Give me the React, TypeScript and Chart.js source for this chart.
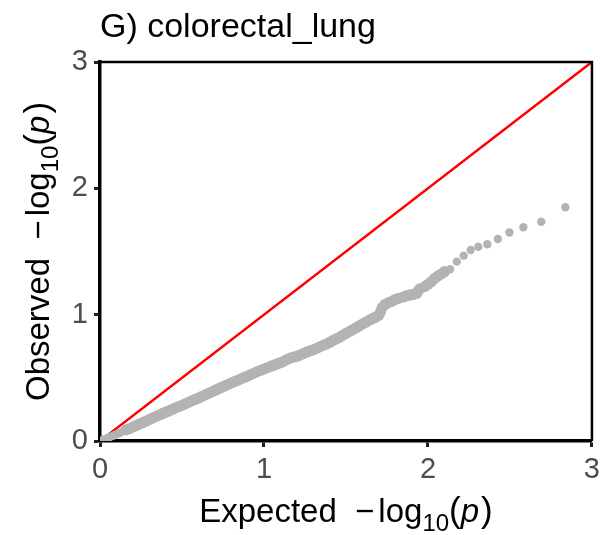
import React, { useEffect, useRef } from "react";
import { Chart, registerables } from "chart.js";

Chart.register(...registerables);

const FONT = "'Liberation Sans', Arial, Helvetica, sans-serif";

const titleText = "G) colorectal_lung";
const xTickValues = [0, 1, 2, 3];
const yTickValues = [0, 1, 2, 3];

// Expected -log10(p)
const expectedValues = [
  0.00, 0.02, 0.04, 0.06, 0.08, 0.10, 0.12, 0.14, 0.16, 0.18,
  0.20, 0.22, 0.24, 0.26, 0.28, 0.30, 0.32, 0.34, 0.36, 0.38,
  0.40, 0.42, 0.44, 0.46, 0.48, 0.50, 0.52, 0.54, 0.56, 0.58,
  0.60, 0.62, 0.64, 0.66, 0.68, 0.70, 0.72, 0.74, 0.76, 0.78,
  0.80, 0.82, 0.84, 0.86, 0.88, 0.90, 0.92, 0.94, 0.96, 0.98,
  1.00, 1.02, 1.04, 1.06, 1.08, 1.10, 1.12, 1.14, 1.16, 1.18,
  1.20, 1.22, 1.24, 1.26, 1.28, 1.30, 1.32, 1.34, 1.36, 1.38,
  1.40, 1.42, 1.44, 1.46, 1.48, 1.50, 1.52, 1.54, 1.56, 1.58,
  1.60, 1.62, 1.64, 1.66, 1.68, 1.70, 1.71, 1.72, 1.74, 1.76,
  1.78, 1.80, 1.82, 1.85, 1.87, 1.89, 1.91, 1.93, 1.94, 1.95,
  1.98, 2.00, 2.02, 2.04, 2.06, 2.08, 2.10, 2.135, 2.176, 2.218,
  2.261, 2.307, 2.362, 2.426, 2.497, 2.582, 2.691, 2.838,
];

// Observed -log10(p)
const observedValues = [
  0.000, 0.010, 0.020, 0.032, 0.042, 0.053, 0.064, 0.077, 0.088, 0.099,
  0.110, 0.122, 0.134, 0.145, 0.157, 0.170, 0.181, 0.193, 0.205, 0.216,
  0.228, 0.238, 0.250, 0.262, 0.272, 0.283, 0.295, 0.306, 0.318, 0.329,
  0.340, 0.352, 0.364, 0.376, 0.388, 0.400, 0.412, 0.424, 0.436, 0.447,
  0.459, 0.470, 0.481, 0.492, 0.503, 0.514, 0.526, 0.538, 0.549, 0.560,
  0.570, 0.580, 0.590, 0.600, 0.610, 0.620, 0.630, 0.645, 0.656, 0.664,
  0.670, 0.680, 0.692, 0.703, 0.713, 0.722, 0.733, 0.745, 0.757, 0.768,
  0.780, 0.795, 0.808, 0.820, 0.836, 0.852, 0.866, 0.880, 0.895, 0.910,
  0.925, 0.940, 0.955, 0.968, 0.980, 0.995, 1.020, 1.055, 1.082, 1.095,
  1.105, 1.120, 1.130, 1.140, 1.150, 1.156, 1.160, 1.168, 1.185, 1.205,
  1.222, 1.240, 1.261, 1.285, 1.306, 1.322, 1.340, 1.359, 1.420, 1.467,
  1.512, 1.538, 1.557, 1.599, 1.650, 1.692, 1.736, 1.850,
];

// Reference line y = x
const refLineX = [0, 3];
const refLineY = [0, 3];

type Part = { t: string; italic?: boolean; sub?: boolean; paren?: boolean; gap?: number };

const xTitleParts: Part[] = [
  { t: "Expected " },
  { t: " \u2212", gap: 4 },
  { t: "log" },
  { t: "10", sub: true },
  { t: "(", paren: true },
  { t: "p", italic: true, gap: 2 },
  { t: ")", paren: true },
];
const yTitleParts: Part[] = [
  { t: "Observed " },
  { t: " \u2212", gap: 4 },
  { t: "log" },
  { t: "10", sub: true },
  { t: "(", paren: true },
  { t: "p", italic: true, gap: 2 },
  { t: ")", paren: true },
];

const BASE = 33;
function partFont(p: Part) {
  const size = p.sub ? 24 : p.paren ? 35 : BASE;
  return `${p.italic ? "italic " : ""}${size}px ${FONT}`;
}
function measureParts(ctx: CanvasRenderingContext2D, parts: Part[]) {
  let w = 0;
  for (const p of parts) {
    ctx.font = partFont(p);
    w += ctx.measureText(p.t).width + (p.gap || 0);
  }
  return w;
}
function drawParts(ctx: CanvasRenderingContext2D, parts: Part[], x0: number, y0: number) {
  let x = x0;
  ctx.textBaseline = "alphabetic";
  ctx.textAlign = "left";
  for (const p of parts) {
    ctx.font = partFont(p);
    ctx.fillText(p.t, x, y0 + (p.sub ? 9 : 0));
    x += ctx.measureText(p.t).width + (p.gap || 0);
  }
}

const decorPlugin = {
  id: "decor",
  afterDraw(chart: any) {
    const ctx: CanvasRenderingContext2D = chart.ctx;
    const a = chart.chartArea;
    ctx.save();
    // panel border (top and right)
    ctx.strokeStyle = "#000";
    ctx.lineWidth = 2.5;
    ctx.beginPath();
    ctx.moveTo(a.left, a.top);
    ctx.lineTo(a.right, a.top);
    ctx.lineTo(a.right, a.bottom);
    ctx.stroke();
    // title
    ctx.fillStyle = "#000";
    ctx.font = `34px ${FONT}`;
    ctx.textBaseline = "alphabetic";
    ctx.textAlign = "left";
    ctx.fillText(titleText, 100, 37);
    // x axis title
    const cx = (a.left + a.right) / 2;
    const wx = measureParts(ctx, xTitleParts);
    drawParts(ctx, xTitleParts, cx - wx / 2, 522);
    // y axis title
    const cy = (a.top + a.bottom) / 2;
    const wy = measureParts(ctx, yTitleParts);
    ctx.translate(49, cy);
    ctx.rotate(-Math.PI / 2);
    drawParts(ctx, yTitleParts, -wy / 2, 0);
    ctx.restore();
  },
};

export default function App() {
  const canvasRef = useRef<HTMLCanvasElement | null>(null);

  useEffect(() => {
    const canvas = canvasRef.current;
    if (!canvas) return;
    const points = expectedValues.map((x, i) => ({ x, y: observedValues[i] }));
    const ref = refLineX.map((x, i) => ({ x, y: refLineY[i] }));
    const tickCfg = (vals: number[]) => ({
      font: { size: 29, family: FONT },
      color: "#4d4d4d",
      padding: 6,
      stepSize: 1,
      autoSkip: false,
      callback: (v: any) => (vals.includes(Number(v)) ? String(v) : ""),
    });
    const gridCfg = {
      display: true,
      drawOnChartArea: false,
      drawTicks: true,
      tickLength: 6,
      tickWidth: 3,
      tickColor: "#222",
    };
    const chart = new Chart(canvas, {
      type: "scatter",
      data: {
        datasets: [
          {
            label: "QQ",
            data: points,
            pointRadius: (c: any) => {
              const r = c.raw;
              if (!r) return 4.2;
              if (r.x < 0.15) return 4.2;
              return r.x < 2.12 ? 5.6 : 4.2;
            },
            pointHoverRadius: 4.2,
            backgroundColor: "#b3b3b3",
            borderWidth: 0,
            showLine: false,
            order: 0,
          },
          {
            label: "y = x",
            data: ref,
            showLine: true,
            borderColor: "#ff0000",
            borderWidth: 2.5,
            pointRadius: 0,
            order: 1,
          },
        ],
      },
      options: {
        animation: false,
        responsive: false,
        layout: { padding: { top: 62, right: 11, left: 0, bottom: 0 } },
        plugins: {
          legend: { display: false },
          tooltip: { enabled: false },
          title: { display: false },
        },
        scales: {
          x: {
            type: "linear",
            min: 0,
            max: 3,
            ticks: tickCfg(xTickValues),
            grid: gridCfg,
            border: { display: true, color: "#000", width: 3.5 },
            afterFit: (s: any) => {
              s.height = 94;
            },
          },
          y: {
            type: "linear",
            min: 0,
            max: 3,
            ticks: tickCfg(yTickValues),
            grid: gridCfg,
            border: { display: true, color: "#000", width: 3.5 },
            afterFit: (s: any) => {
              s.width = 100;
            },
          },
        },
      } as any,
      plugins: [decorPlugin],
    });
    return () => chart.destroy();
  }, []);

  return (
    <div style={{ position: "absolute", left: 0, top: 0, width: 606, height: 535, background: "#fff" }}>
      <canvas ref={canvasRef} width={606} height={535} style={{ display: "block" }} />
    </div>
  );
}
